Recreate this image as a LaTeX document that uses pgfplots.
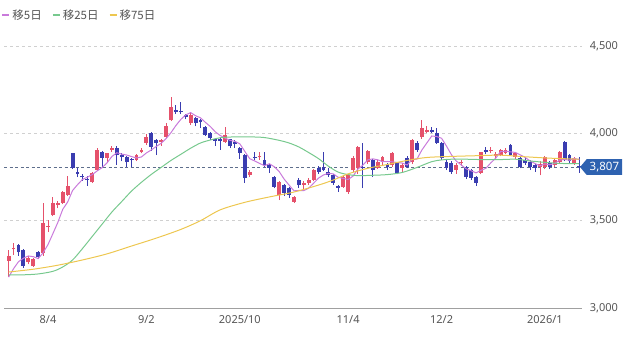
\documentclass[border=0pt]{standalone}
\usepackage{fontspec}
\setmainfont{Noto Sans}
\newfontfamily\cjk{Noto Sans CJK JP}
\usepackage{pgfplots}
\usepackage{pgfplotstable}
\pgfplotsset{compat=1.18}
\usetikzlibrary{shapes.symbols}
\definecolor{upc}{HTML}{E5516B}
\definecolor{dnc}{HTML}{3A3DB0}
\definecolor{ma5}{HTML}{C97ADB}
\definecolor{ma25}{HTML}{77C98E}
\definecolor{ma75}{HTML}{EDC750}
\definecolor{gridc}{HTML}{D0D0D0}
\definecolor{axisc}{HTML}{A0A0A0}
\definecolor{txtc}{HTML}{555555}
\definecolor{pricec}{HTML}{5E6E8C}
\definecolor{boxc}{HTML}{2E62B0}

\pgfplotstableread{
i O H L C
0 3270 3330 3180 3300
1 3335 3370 3305 3345
4 3265 3295 3250 3285
5 3240 3285 3235 3280
7 3315 3600 3300 3487
8 3465 3505 3435 3472
9 3532 3635 3525 3601
10 3590 3610 3570 3600
11 3600 3670 3595 3664
12 3647 3755 3640 3698
17 3721 3780 3715 3773
18 3790 3915 3785 3905
20 3860 3890 3830 3887
21 3905 3925 3895 3916
26 3847 3880 3840 3876
27 3893 3915 3885 3905
28 3945 3995 3935 3979
31 3950 3970 3930 3962
32 3979 4060 3975 4042
33 4076 4208 4070 4150
37 4059 4115 4050 4105
44 3950 4035 3945 3990
49 3761 3790 3750 3779
51 3862 3895 3850 3870
55 3647 3725 3618 3721
58 3607 3640 3600 3635
60 3705 3730 3680 3715
61 3716 3745 3705 3733
62 3733 3795 3725 3790
68 3693 3760 3690 3750
69 3664 3770 3655 3761
70 3790 3870 3780 3859
71 3801 3930 3770 3922
73 3836 3905 3825 3899
75 3801 3845 3795 3836
76 3836 3870 3820 3864
78 3819 3895 3810 3887
80 3801 3830 3780 3819
82 3836 3965 3825 3962
84 3979 4076 3970 4030
85 4010 4040 4000 4020
91 3790 3830 3770 3819
92 3830 3850 3815 3838
96 3773 3895 3765 3893
98 3898 3920 3885 3905
99 3870 3895 3855 3880
100 3876 3910 3870 3905
101 3890 3915 3880 3905
103 3864 3895 3855 3887
108 3807 3840 3760 3825
109 3807 3870 3795 3864
111 3819 3855 3810 3847
112 3836 3900 3830 3893
115 3830 3865 3820 3860
}\up

\pgfplotstableread{
i O H L C
2 3360 3365 3300 3318
3 3330 3335 3230 3240
6 3320 3325 3280 3290
13 3887 3890 3795 3801
14 3779 3800 3750 3767
15 3755 3765 3730 3748
16 3738 3755 3700 3732
19 3893 3900 3800 3860
22 3916 3925 3820 3876
23 3876 3890 3840 3864
24 3864 3870 3810 3836
25 3852 3860 3805 3845
29 4000 4010 3900 3922
30 3962 3965 3876 3945
34 4135 4160 4110 4125
35 4127 4180 4110 4120
36 4105 4110 4080 4093
38 4088 4095 4040 4060
39 4076 4080 4030 4065
40 4036 4040 3985 3990
41 4002 4010 3960 3973
42 3965 3975 3930 3958
43 3968 3975 3905 3956
45 3968 3970 3915 3925
46 3950 3960 3915 3940
47 3916 3920 3855 3887
48 3876 3880 3715 3745
50 3867 3893 3847 3860
52 3847 3893 3810 3819
53 3819 3825 3773 3801
54 3750 3755 3685 3693
56 3704 3710 3640 3658
57 3687 3695 3630 3647
59 3733 3745 3690 3704
63 3801 3815 3770 3779
64 3805 3893 3785 3792
65 3779 3800 3750 3761
66 3761 3770 3705 3716
67 3697 3705 3665 3690
72 3808 3945 3687 3800
74 3847 3855 3750 3790
77 3824 3830 3790 3807
79 3830 3835 3765 3773
81 3859 3870 3800 3807
83 3945 3955 3895 3905
86 4020 4035 4000 4008
87 4002 4030 3940 3945
88 3945 3950 3845 3859
89 3836 3845 3790 3801
90 3830 3840 3770 3779
93 3807 3815 3740 3750
94 3790 3795 3735 3745
95 3750 3755 3700 3716
97 3905 3920 3880 3895
102 3933 3940 3870 3876
104 3859 3865 3800 3810
105 3847 3860 3820 3830
106 3836 3845 3790 3805
107 3819 3825 3780 3801
110 3830 3840 3795 3805
113 3950 3955 3840 3847
114 3876 3880 3830 3840
116 3812 3864 3775 3807
}\down

\begin{document}
\begin{tikzpicture}[x=1pt,y=1pt]
\path[use as bounding box] (0,0) rectangle (640,339);
\begin{axis}[
  at={(4.2pt,31pt)}, anchor=south west,
  scale only axis, width=577.6pt, height=279.4pt,
  xmin=-0.9, xmax=116.5, ymin=3000, ymax=4600,
  axis line style={draw=none},
  major tick length=0pt,
  xtick={8,28,47,69,88,109},
  xticklabels={8/4,9/2,2025/10,11/4,12/2,2026/1},
  xticklabel style={font=\fontsize{11}{13}\selectfont, text=txtc, yshift=-4pt},
  ytick={3500,4000,4500},
  extra y ticks={3000},
  extra y tick style={grid style={solid, draw=axisc, line width=0.8pt}},
  yticklabel pos=right,
  yticklabel style={font=\fontsize{11}{13}\selectfont, text=txtc, anchor=west, xshift=4.5pt,
     /pgf/number format/.cd, 1000 sep={,}, assume math mode=true},
  ymajorgrids,
  grid style={dashed, dash pattern=on 3pt off 3pt, draw=gridc, line width=0.6pt},
  legend columns=3,
  legend style={at={(axis description cs:0,1)}, anchor=west, yshift=13.6pt, xshift=-3pt,
     draw=none, fill=none, inner sep=0pt, font=\cjk\fontsize{11.5}{13}\selectfont, text=txtc,
     /tikz/every even column/.append style={column sep=8pt}},
  legend image code/.code={\draw[line width=2pt,#1] (0pt,0pt) -- (7pt,0pt);},
  legend cell align=left,
]
% price line
\addplot[forget plot, pricec, dashed, dash pattern=on 3pt off 2.5pt, line width=0.7pt] coordinates {(-0.9,3807) (116.5,3807)};
% wicks
\addplot[forget plot, mark=none, upc, quiver={u=0, v=\thisrow{H}-\thisrow{L},
   every arrow/.append style={-, line width=0.9pt, draw=upc}}] table[x=i, y=L] \up;
\addplot[forget plot, mark=none, dnc, quiver={u=0, v=\thisrow{H}-\thisrow{L},
   every arrow/.append style={-, line width=0.9pt, draw=dnc}}] table[x=i, y=L] \down;
% bodies
\addplot[forget plot, mark=none, upc, quiver={u=0, v=\thisrow{C}-\thisrow{O},
   every arrow/.append style={-, line width=3.9pt, draw=upc}}] table[x=i, y=O] \up;
\addplot[forget plot, mark=none, dnc, quiver={u=0, v=\thisrow{O}-\thisrow{C},
   every arrow/.append style={-, line width=3.9pt, draw=dnc}}] table[x=i, y=C] \down;
% moving averages
\addplot[ma5, line width=1pt, mark=none] coordinates {
(0,3177)(1,3225)(2,3265)(3,3285)(4,3298)(5,3294)(6,3283)(7,3316)(8,3363)(9,3426)
(10,3490)(11,3565)(12,3607)(13,3673)(14,3706)(15,3736)(16,3749)(17,3764)(18,3785)(19,3804)
(20,3831)(21,3868)(22,3889)(23,3881)(24,3876)(25,3867)(26,3859)(27,3865)(28,3888)(29,3905)
(30,3925)(31,3943)(32,3970)(33,4004)(34,4045)(35,4080)(36,4106)(37,4119)(38,4101)(39,4089)
(40,4063)(41,4039)(42,4009)(43,3988)(44,3973)(45,3960)(46,3954)(47,3940)(48,3897)(49,3855)
(50,3842)(51,3828)(52,3815)(53,3826)(54,3809)(55,3781)(56,3738)(57,3704)(58,3671)(59,3673)
(60,3672)(61,3687)(62,3715)(63,3744)(64,3762)(65,3771)(66,3768)(67,3748)(68,3742)(69,3736)
(70,3755)(71,3796)(72,3818)(73,3848)(74,3854)(75,3849)(76,3838)(77,3839)(78,3837)(79,3833)
(80,3830)(81,3819)(82,3850)(83,3853)(84,3905)(85,3945)(86,3985)(87,3982)(88,3972)(89,3927)
(90,3878)(91,3841)(92,3819)(93,3797)(94,3786)(95,3774)(96,3788)(97,3800)(98,3831)(99,3858)
(100,3896)(101,3898)(102,3894)(103,3891)(104,3877)(105,3862)(106,3842)(107,3827)(108,3814)(109,3825)
(110,3820)(111,3828)(112,3847)(113,3851)(114,3846)(115,3857)(116,3849)};
\addlegendentry{移5日}
\addplot[ma25, line width=1pt, mark=none, smooth] coordinates {
(0,3189)(3,3190)(6,3195)(9,3210)(11,3235)(13,3275)(15,3340)(17,3410)(19,3480)(21,3550)
(23,3610)(25,3670)(27,3720)(29,3765)(31,3805)(33,3845)(35,3880)(37,3915)(39,3945)(41,3962)
(43,3975)(46,3980)(49,3980)(52,3976)(55,3960)(57,3945)(59,3922)(61,3890)(63,3855)(65,3812)
(67,3778)(69,3764)(71,3758)(74,3760)(77,3764)(80,3776)(83,3805)(86,3838)(88,3848)(90,3852)
(93,3852)(96,3850)(100,3850)(103,3852)(106,3842)(109,3834)(112,3828)(116,3826)};
\addlegendentry{移25日}
\addplot[ma75, line width=1pt, mark=none, smooth] coordinates {
(0,3206)(5,3222)(10,3245)(15,3275)(20,3310)(25,3355)(30,3400)(35,3450)(39,3500)(43,3562)
(48,3605)(53,3636)(58,3664)(63,3704)(66,3733)(69,3768)(73,3800)(77,3822)(81,3845)(85,3862)
(90,3868)(95,3872)(100,3875)(105,3866)(110,3858)(116,3852)};
\addlegendentry{移75日}
\coordinate (pricept) at (axis cs:116.5,3807);
\end{axis}
\node[signal, signal to=west, signal pointer angle=100, fill=boxc, text=white,
  font=\fontsize{11.5}{13}\selectfont, inner xsep=3pt, inner ysep=3pt, anchor=west, xshift=-2pt]
  at (pricept) {3,807};
\end{tikzpicture}
\end{document}
